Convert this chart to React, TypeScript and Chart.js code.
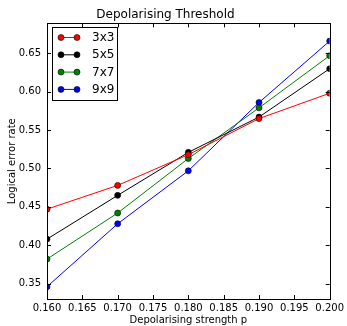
import React, { useEffect, useRef } from "react";
import { Chart, registerables } from "chart.js";

Chart.register(...registerables);

const strengths = [0.16, 0.17, 0.18, 0.19, 0.2];
const err3x3 = [0.447, 0.478, 0.518, 0.565, 0.598];
const err5x5 = [0.408, 0.465, 0.521, 0.567, 0.63];
const err7x7 = [0.382, 0.442, 0.513, 0.579, 0.647];
const err9x9 = [0.346, 0.428, 0.497, 0.586, 0.666];
const seriesNames = ["3x3", "5x5", "7x7", "9x9"];
const seriesColors = ["#ff0000", "#000000", "#008000", "#0000ff"];

const FONT = "'DejaVu Sans', sans-serif";

const framePlugin = {
  id: "frame",
  afterDraw(chart: any) {
    const { ctx, chartArea: a, scales } = chart;
    ctx.save();
    ctx.strokeStyle = "#000";
    ctx.lineWidth = 1;
    ctx.strokeRect(Math.round(a.left) + 0.5, Math.round(a.top) + 0.5, Math.round(a.right - a.left), Math.round(a.bottom - a.top));
    const tl = 4;
    ctx.beginPath();
    scales.x.ticks.forEach((t: any) => {
      const x = Math.round(scales.x.getPixelForValue(t.value)) + 0.5;
      ctx.moveTo(x, a.bottom);
      ctx.lineTo(x, a.bottom - tl);
      ctx.moveTo(x, a.top);
      ctx.lineTo(x, a.top + tl);
    });
    scales.y.ticks.forEach((t: any) => {
      const y = Math.round(scales.y.getPixelForValue(t.value)) + 0.5;
      ctx.moveTo(a.left, y);
      ctx.lineTo(a.left + tl, y);
      ctx.moveTo(a.right, y);
      ctx.lineTo(a.right - tl, y);
    });
    ctx.stroke();

    // legend
    const bx = 52.5, by = 27.5, bw = 65, bh = 73;
    ctx.fillStyle = "#fff";
    ctx.fillRect(bx, by, bw, bh);
    ctx.strokeRect(bx, by, bw, bh);
    ctx.font = `12px ${FONT}`;
    ctx.textBaseline = "middle";
    ctx.textAlign = "left";
    seriesNames.forEach((name, i) => {
      const y = 37.5 + i * 17.3;
      ctx.strokeStyle = seriesColors[i];
      ctx.lineWidth = 1;
      ctx.beginPath();
      ctx.moveTo(61, y);
      ctx.lineTo(77, y);
      ctx.stroke();
      [61, 77].forEach((x) => {
        ctx.beginPath();
        ctx.arc(x, y, 3, 0, Math.PI * 2);
        ctx.fillStyle = seriesColors[i];
        ctx.fill();
        ctx.strokeStyle = "#000";
        ctx.lineWidth = 0.6;
        ctx.stroke();
      });
      ctx.fillStyle = "#000";
      ctx.fillText(name, 92, y + 0.5);
    });
    ctx.restore();
  },
};

export default function App() {
  const ref = useRef<HTMLCanvasElement>(null);
  useEffect(() => {
    const data = [err3x3, err5x5, err7x7, err9x9];
    const chart = new Chart(ref.current!, {
      type: "line",
      data: {
        datasets: seriesNames.map((name, i) => ({
          label: name,
          data: strengths.map((s, j) => ({ x: s, y: data[i][j] })),
          borderColor: seriesColors[i],
          backgroundColor: seriesColors[i],
          pointBackgroundColor: seriesColors[i],
          pointBorderColor: "#000",
          pointBorderWidth: 0.6,
          pointRadius: 3,
          borderWidth: 1,
          tension: 0,
        })),
      },
      options: {
        animation: false,
        responsive: false,
        layout: { padding: { left: 0, right: 16, top: 0, bottom: 0 } },
        plugins: {
          legend: { display: false },
          tooltip: { enabled: false },
          title: {
            display: true,
            text: "Depolarising Threshold",
            color: "#000",
            font: { family: FONT, size: 12, weight: "normal" },
            padding: { top: 8, bottom: 1 },
          },
        },
        scales: {
          x: {
            type: "linear",
            min: 0.16,
            max: 0.2,
            afterFit: (s: any) => { s.height = 27; },
            afterBuildTicks: (s: any) => {
              s.ticks = [0.16, 0.165, 0.17, 0.175, 0.18, 0.185, 0.19, 0.195, 0.2].map((v) => ({ value: v }));
            },
            grid: { display: false, drawTicks: false },
            border: { display: false },
            ticks: {
              color: "#000",
              font: { family: FONT, size: 10 },
              padding: 3,
              maxRotation: 0,
              autoSkip: false,
              callback: (v: any) => Number(v).toFixed(3),
            },
            title: {
              display: true,
              text: "Depolarising strength p",
              color: "#000",
              font: { family: FONT, size: 10 },
              padding: { top: 0, bottom: 0 },
            },
          },
          y: {
            min: 0.33,
            max: 0.689,
            afterFit: (s: any) => { s.width = 47; },
            afterBuildTicks: (s: any) => {
              s.ticks = [0.35, 0.4, 0.45, 0.5, 0.55, 0.6, 0.65].map((v) => ({ value: v }));
            },
            grid: { display: false, drawTicks: false },
            border: { display: false },
            ticks: {
              color: "#000",
              font: { family: FONT, size: 10 },
              padding: 6,
              callback: (v: any) => Number(v).toFixed(2),
            },
            title: {
              display: true,
              text: "Logical error rate",
              color: "#000",
              font: { family: FONT, size: 10 },
              padding: { top: 6, bottom: 0 },
            },
          },
        },
      },
      plugins: [framePlugin],
    } as any);
    return () => chart.destroy();
  }, []);
  return (
    <div style={{ position: "fixed", left: 0, top: 0, width: 347, height: 326, background: "#fff" }}>
      <canvas ref={ref} width={347} height={326} style={{ width: 347, height: 326 }} />
    </div>
  );
}
